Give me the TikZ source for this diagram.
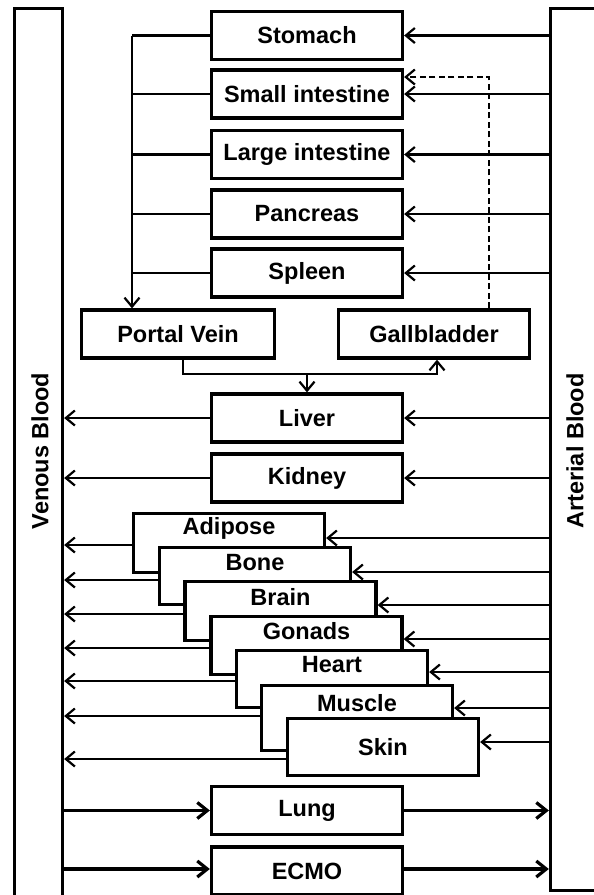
\documentclass[tikz,border=0pt]{standalone}
\usepackage{fontspec}
\setmainfont{Liberation Sans}
\usetikzlibrary{arrows.meta,calc}
\begin{document}
\begin{tikzpicture}[x=1pt,y=-1pt,
  txt/.style={font=\fontsize{23.5}{26}\selectfont\bfseries},
  box/.style={draw, line width=3.3pt, fill=white, minimum width=191pt, minimum height=48pt, inner sep=0pt, txt},
  sbox/.style={draw, line width=3.3pt, fill=white, minimum width=191pt, inner sep=0pt},
  lbl/.style={txt, inner sep=0pt},
  bar/.style={draw, line width=3.3pt, inner sep=0pt},
  conn/.style={line width=2.2pt},
  arr/.style={conn, -{Straight Barb[length=9pt,width=15pt,line width=2.2pt]}},
  barr/.style={line width=3.4pt, -{Straight Barb[length=10pt,width=16pt,line width=3.2pt]}},
]
\useasboundingbox (0,0) rectangle (594,895);
\begin{scope}
\clip (0,0) rectangle (594,895);
% bars
\node[bar, minimum width=48pt, minimum height=893pt] (venous) at (38.5,455) {};
\node[bar, minimum width=68pt, minimum height=882pt] (arterial) at (584.5,449.5) {};
\node[lbl, rotate=90] (venousT) at (40,451) {Venous Blood};
\node[lbl, rotate=90] (arterialT) at (575,451) {Arterial Blood};

% top boxes
\node[box] (stomach) at (307,35.5) {Stomach};
\node[box] (small) at (307,94) {Small intestine};
\node[box] (large) at (307,154.5) {Large intestine};
\node[box] (pancreas) at (307,214) {Pancreas};
\node[box] (spleen) at (307,273) {Spleen};
\node[box, minimum width=193pt] (portal) at (178,334) {Portal Vein};
\node[box] (gall) at (434,334) {Gallbladder};
\node[box] (liver) at (307,418) {Liver};
\node[box] (kidney) at (307,478) {Kidney};
\node[box] (lung) at (307,810.5) {Lung};
\node[box] (ecmo) at (307,871) {ECMO};

% arterial to top boxes
\foreach \n in {stomach,small,large,pancreas,spleen,liver,kidney}
  \draw[arr] (arterial.west |- \n.east) -- (\n.east);

% gut collector to portal vein
\coordinate (col) at (132,0);
\foreach \n in {stomach,small,large,pancreas,spleen}
  \draw[conn] (\n.west) -- (\n.west -| col);
\draw[arr] (stomach.west -| col) -- (portal.north -| col);

% portal vein to liver and gallbladder
\coordinate (pv) at (183,374);
\coordinate (gx) at (437,374);
\draw[arr] (pv |- portal.south) -- (pv) -- (gx) -- (gx |- gall.south);
\draw[arr] (liver.north |- pv) -- (liver.north);

% gallbladder to small intestine (dashed)
\coordinate (dc) at (489,77);
\draw[arr, dash pattern=on 6pt off 3.5pt] (dc |- gall.north) -- (dc) -- (dc -| small.east);

% liver, kidney to venous
\draw[arr] (liver.west) -- (venous.east |- liver.west);
\draw[arr] (kidney.west) -- (venous.east |- kidney.west);

% stacked boxes
\node[sbox, minimum height=59pt] (adipose) at (229,543) {};
\node[lbl] (adiposeT) at ($(adipose.north)+(0,17)$) {Adipose};
\node[sbox, minimum height=57pt] (bone) at (255,576) {};
\node[lbl] (boneT) at ($(bone.north)+(0,17)$) {Bone};
\node[sbox, minimum height=59pt] (brain) at (280.5,611) {};
\node[lbl] (brainT) at ($(brain.north)+(0,17)$) {Brain};
\node[sbox, minimum height=58pt] (gonads) at (306.5,645.5) {};
\node[lbl] (gonadsT) at ($(gonads.north)+(0,16)$) {Gonads};
\node[sbox, minimum height=57pt] (heart) at (332,679) {};
\node[lbl] (heartT) at ($(heart.north)+(0,16)$) {Heart};
\node[sbox, minimum height=65pt] (muscle) at (357,718) {};
\node[lbl] (muscleT) at ($(muscle.north)+(0,19)$) {Muscle};
\node[sbox, minimum height=57pt] (skin) at (383,747) {};
\node[lbl] (skinT) at (skin.center) {Skin};

\foreach \n/\l/\r in {adipose/545/538, bone/580/572, brain/614/605, gonads/648/639, heart/681/672, muscle/716/708, skin/759/742}{
  \draw[arr] (\n.west |- 0,\l) -- (venous.east |- 0,\l);
  \draw[arr] (arterial.west |- 0,\r) -- (\n.east |- 0,\r);
}

% lung and ecmo
\draw[barr] (venous.east |- lung.west) -- (lung.west);
\draw[barr] (lung.east) -- (arterial.west |- lung.east);
\draw[barr] (venous.east |- 0,869) -- (ecmo.west |- 0,869);
\draw[barr] (ecmo.east |- 0,869) -- (arterial.west |- 0,869);
\end{scope}
\end{tikzpicture}
\end{document}
